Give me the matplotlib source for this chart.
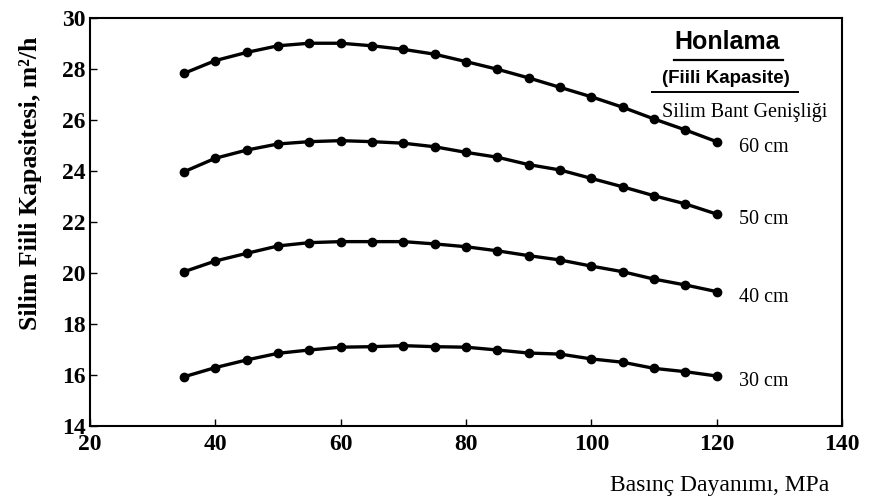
import matplotlib
matplotlib.use("Agg")
import matplotlib.pyplot as plt

# basinc dayanimi, MPa
basinc = [35, 40, 45, 50, 55, 60, 65, 70, 75, 80, 85, 90, 95, 100, 105, 110, 115, 120]

# silim fiili kapasitesi, m2/h
kap_60 = [27.83, 28.33, 28.65, 28.91, 29.01, 29.01, 28.91, 28.77, 28.58,
          28.29, 27.99, 27.65, 27.28, 26.91, 26.50, 26.04, 25.61, 25.15]
kap_50 = [23.97, 24.50, 24.82, 25.06, 25.15, 25.19, 25.15, 25.09, 24.95,
          24.73, 24.54, 24.25, 24.04, 23.71, 23.38, 23.03, 22.71, 22.31]
kap_40 = [20.05, 20.47, 20.77, 21.06, 21.19, 21.23, 21.23, 21.23, 21.14,
          21.03, 20.87, 20.68, 20.51, 20.27, 20.05, 19.76, 19.53, 19.27]
kap_30 = [15.93, 16.29, 16.59, 16.85, 16.98, 17.09, 17.11, 17.15, 17.11,
          17.09, 16.98, 16.86, 16.82, 16.63, 16.50, 16.26, 16.13, 15.96]

series = [kap_60, kap_50, kap_40, kap_30]
labels = ['60 cm', '50 cm', '40 cm', '30 cm']

xticks = [20, 40, 60, 80, 100, 120, 140]
yticks = [14, 16, 18, 20, 22, 24, 26, 28, 30]

serif = 'Liberation Serif'
sans = 'Liberation Sans'

fig = plt.figure(figsize=(8.94, 5.04), dpi=100)
ax = fig.add_axes([0.1007, 0.1548, 0.8411, 0.8095])

for vals, lab in zip(series, labels):
    ax.plot(basinc, vals, color='black', lw=2.4, marker='o', ms=6)
    ax.annotate(lab, (basinc[-1], vals[-1]), xytext=(16, -4),
                textcoords='offset points', ha='left', va='center',
                fontsize=14.5, family=serif)

ax.set_xlim(20, 140)
ax.set_ylim(14, 30)
ax.set_xticks(xticks)
ax.set_yticks(yticks)
ax.tick_params(direction='in', length=5, width=1, labelsize=17)
ax.tick_params(axis='x', pad=6)
ax.tick_params(axis='y', pad=3)
for t in ax.get_xticklabels() + ax.get_yticklabels():
    t.set_family(serif)
    t.set_fontweight('bold')
for s in ax.spines.values():
    s.set_linewidth(1.5)

ax.text(0.847, 0.940, 'Honlama', transform=ax.transAxes, ha='center', va='center',
        fontsize=18, fontweight='bold', family=sans)
ax.plot([0.777, 0.922], [0.898, 0.898], transform=ax.transAxes, color='black', lw=1.6,
        clip_on=False)
ax.text(0.845, 0.852, '(Fiili Kapasite)', transform=ax.transAxes, ha='center', va='center',
        fontsize=13.5, fontweight='bold', family=sans)
ax.plot([0.748, 0.942], [0.818, 0.818], transform=ax.transAxes, color='black', lw=1.4,
        clip_on=False)
ax.text(0.871, 0.768, 'Silim Bant Genişliği', transform=ax.transAxes, ha='center', va='center',
        fontsize=14.5, family=serif)

fig.text(0.034, 0.637, 'Silim Fiili Kapasitesi, m²/h', rotation=90, ha='center', va='center',
         fontsize=18.5, fontweight='bold', family=serif)
fig.text(0.928, 0.037, 'Basınç Dayanımı, MPa', ha='right', va='center',
         fontsize=17, family=serif)

fig.savefig('out.png', dpi=100)
